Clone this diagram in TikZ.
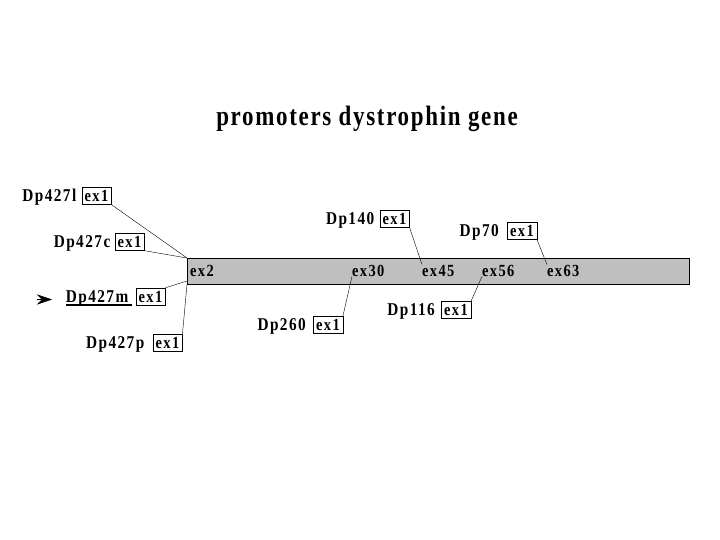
\documentclass[tikz,border=0pt]{standalone}
\usepackage{fontspec}
\setmainfont{Liberation Serif}[LetterSpace=8,FakeStretch=0.85]
\newfontfamily\titlefont{Liberation Serif}[LetterSpace=6,FakeStretch=0.82]
\usetikzlibrary{positioning,arrows.meta}

% thick underline, running a little past the word
\newcommand\promul[1]{\setbox0\hbox{#1\hspace{4pt}}\rlap{\rule[-4pt]{\wd0}{1.6pt}}\box0}

\tikzset{
  prom/.style={font=\bfseries\fontsize{18}{18}\selectfont, inner sep=0pt},
  exbox/.style={draw, font=\bfseries\fontsize{17}{17}\selectfont, inner xsep=3pt, inner ysep=1pt, minimum height=17pt},
  exlab/.style={font=\bfseries\fontsize{17}{17}\selectfont, inner sep=0pt, anchor=base west},
  link/.style={thin}
}

\begin{document}
\begin{tikzpicture}[x=1pt,y=-1pt,>=Stealth]
        \useasboundingbox[fill=white] (0,0) rectangle (720,540);
        % title
        \node[font=\titlefont\bfseries\fontsize{28}{28}\selectfont, anchor=base] (title) at (367,126) {promoters dystrophin gene};
        % the gene
        \node[draw, fill=black!25, minimum width=502pt, minimum height=26pt, inner sep=0pt, anchor=north west] (gene) at (187,258) {};
        \node[exlab] (ex2) at (190,276) {ex2};
        \node[exlab] (ex30) at (352,276) {ex30};
        \node[exlab] (ex45) at (422,276) {ex45};
        \node[exlab] (ex56) at (482,276) {ex56};
        \node[exlab] (ex63) at (547,276) {ex63};
        % promoters: exon 1 box, name to its left
        \node[exbox] (l427ex) at (96.5,196) {ex1};
        \node[prom, base left=5pt of l427ex] (l427) {Dp427l};
        \node[exbox] (c427ex) at (129.5,242) {ex1};
        \node[prom, base left=4pt of c427ex] (c427) {Dp427c};
        \node[exbox] (m427ex) at (150.5,296.5) {ex1};
        \node[prom, base left=3pt of m427ex] (m427) {\promul{Dp427m}};
        \node[exbox] (p427ex) at (167.5,342.5) {ex1};
        \node[prom, base left=8pt of p427ex] (p427) {Dp427p};
        \node[exbox] (p260ex) at (328,324.5) {ex1};
        \node[prom, base left=7pt of p260ex] (p260) {Dp260};
        \node[exbox] (p140ex) at (394.5,218.5) {ex1};
        \node[prom, base left=5pt of p140ex] (p140) {Dp140};
        \node[exbox] (p116ex) at (456,310) {ex1};
        \node[prom, base left=6pt of p116ex] (p116) {Dp116};
        \node[exbox] (p70ex) at (522,231) {ex1};
        \node[prom, base left=8pt of p70ex] (p70) {Dp70};
        \coordinate (arr) at (37,299.5);
        \coordinate (gm) at (187,281);
        % links
        \draw[link] (l427ex.south east) -- (gene.north west);
        \draw[link] (c427ex.south east) -- (gene.north west);
        \draw[link] (m427ex.north east) -- (gm);
        \draw[link] (p427ex.north east) -- (gene.south west);
        \draw[link] (p260ex.north east) -- (ex30.south west);
        \draw[link] (p140ex.south east) -- (ex45.north west);
        \draw[link] (p116ex.north east) -- (ex56.south west);
        \draw[link] (p70ex.south east) -- (ex63.north west);
        \draw[-{Stealth[length=15pt,width=10pt]}] (arr) -- ++(15,0);
      \end{tikzpicture}
\end{document}
